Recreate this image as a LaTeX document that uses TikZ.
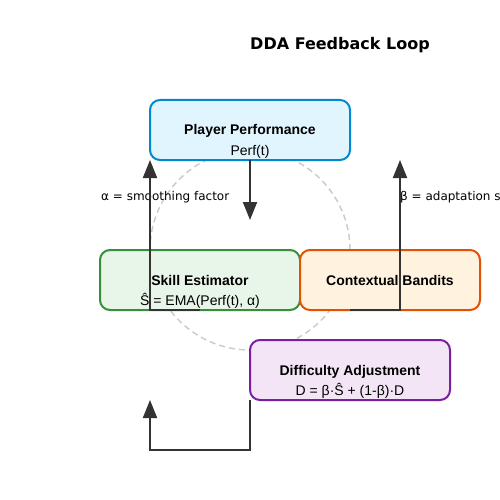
\documentclass[tikz,border=0pt]{standalone}
\usepackage{fontspec}
\setmainfont{Liberation Sans}
\newfontfamily\dejavu{DejaVu Sans}
\usetikzlibrary{arrows.meta}
\definecolor{perfline}{HTML}{0288D1}
\definecolor{perffill}{HTML}{E1F5FE}
\definecolor{skillline}{HTML}{388E3C}
\definecolor{skillfill}{HTML}{E8F5E9}
\definecolor{banditline}{HTML}{E65100}
\definecolor{banditfill}{HTML}{FFF3E0}
\definecolor{diffline}{HTML}{7B1FA2}
\definecolor{difffill}{HTML}{F3E5F5}
\definecolor{flowgray}{HTML}{333333}

\begin{document}
\begin{tikzpicture}[x=1pt,y=-1pt,
  box/.style={rounded corners=10pt,line width=2pt,minimum width=200pt,minimum height=60pt,inner sep=0pt,outer sep=0pt,anchor=north west},
  head/.style={anchor=base,font=\bfseries\fontsize{14}{17}\selectfont},
  formula/.style={anchor=base,font=\fontsize{14}{17}\selectfont},
  note/.style={anchor=base west,inner sep=0pt,font=\dejavu\fontsize{12}{14}\selectfont},
  flow/.style={draw=flowgray,line width=2pt,-{Triangle[length=18pt,width=14pt]}}]
  \useasboundingbox (0,0) rectangle (500,500);
  \node[anchor=base,font=\dejavu\bfseries\fontsize{16}{19}\selectfont] (title) at (340,50) {DDA Feedback Loop};
  % dashed loop behind the boxes
  \draw[draw=black!20,line width=1.5pt,dash pattern=on 6pt off 4pt] (250,250) circle[radius=100pt];
  \node[box,draw=perfline,fill=perffill] (perf) at (150,100) {};
  \node[box,draw=skillline,fill=skillfill] (skill) at (100,250) {};
  \node[box,draw=banditline,fill=banditfill,minimum width=180pt] (bandit) at (300,250) {};
  \node[box,draw=diffline,fill=difffill] (diff) at (250,340) {};
  \node[head] (perfhead) at (250,135) {Player Performance};
  \node[formula] (perfform) at (250,155) {Perf(t)};
  \node[head] (skillhead) at (200,285) {Skill Estimator};
  \node[formula] (skillform) at (200,305) {Ŝ = EMA(Perf(t), α)};
  \node[head] (bandithead) at (390,285) {Contextual Bandits};
  \node[head] (diffhead) at (350,375) {Difficulty Adjustment};
  \node[formula] (diffform) at (350,395) {D = β·Ŝ + (1-β)·D};
  \node[note] (alpha) at (101,200) {α = smoothing factor};
  \node[note] (beta) at (400,200) {β = adaptation speed};
  \coordinate (perfend) at (250,220);
  \coordinate (bstart) at (350,310);
  \coordinate (bend) at (400,160);
  \coordinate (dend) at (150,400);
  \draw[flow] (perf.south) -- (perfend);
  \draw[flow] (skill.south) -| (perf.south west);
  \draw[flow] (bstart) -| (bend);
  \draw[flow] (diff.south west) -- ++(0,50) -| (dend);
\end{tikzpicture}
\end{document}
